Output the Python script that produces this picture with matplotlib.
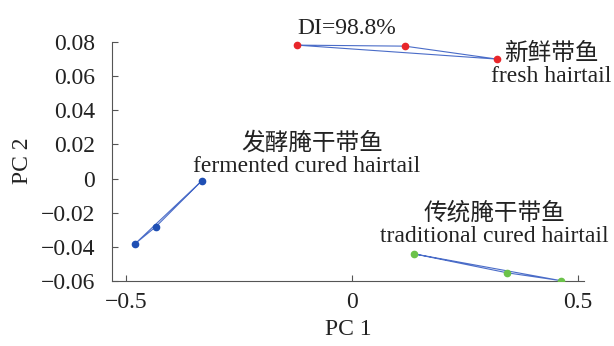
import matplotlib
matplotlib.use("Agg")
import matplotlib.pyplot as plt

plt.rcParams['font.family'] = ['Liberation Serif', 'Noto Sans CJK SC']
plt.rcParams['axes.unicode_minus'] = True

groups = ["fresh", "fermented", "traditional"]
fresh_x = [-0.122, 0.117, 0.321]
fresh_y = [0.0782, 0.0776, 0.0700]
ferm_x = [-0.332, -0.434, -0.480]
ferm_y = [-0.0012, -0.0282, -0.0382]
trad_x = [0.137, 0.343, 0.462]
trad_y = [-0.0441, -0.0552, -0.0598]
point_colors = ["#e8262a", "#1f4fb4", "#6cc24a"]
xticks = [-0.5, 0, 0.5]
yticks = [-0.06, -0.04, -0.02, 0, 0.02, 0.04, 0.06, 0.08]

fig = plt.figure(figsize=(6.14, 3.46), dpi=100)
ax = fig.add_axes([112/614, 1-281/346, (584-112)/614, (281-40)/346])

line_color = "#4a6cc8"
for xs, ys, c in [(fresh_x, fresh_y, point_colors[0]),
                  (ferm_x, ferm_y, point_colors[1]),
                  (trad_x, trad_y, point_colors[2])]:
    ax.plot(xs + [xs[0]], ys + [ys[0]], color=line_color, lw=0.8, zorder=2)
    ax.plot(xs, ys, 'o', color=c, ms=4.5, zorder=3)

ax.set_xlim(-0.531, 0.513)
ax.set_ylim(-0.06, 0.0812)
ax.set_xticks(xticks)
ax.set_xticklabels(["\u22120.5", "0", "0.5"])
ax.set_yticks(yticks)
ax.set_yticklabels(["\u22120.06", "\u22120.04", "\u22120.02", "0", "0.02", "0.04", "0.06", "0.08"])
for s in ['top', 'right']:
    ax.spines[s].set_visible(False)
for s in ['left', 'bottom']:
    ax.spines[s].set_color('#555555')
    ax.spines[s].set_linewidth(0.8)
ax.spines['left'].set_bounds(-0.06, 0.08)
ax.tick_params(direction='in', length=4, width=0.8, color='#555555', labelsize=17, labelcolor='#222222')
ax.tick_params(axis='y', pad=12)
ax.tick_params(axis='x', pad=8)
ax.set_xlabel("PC 1", fontsize=17, color='#222222', labelpad=4)
ax.set_ylabel("PC 2", fontsize=17, color='#222222', labelpad=6)

tc = '#222222'
ax.text(-0.122, 0.0815, "DI=98.8%", fontsize=17, color=tc, ha='left', va='bottom')
ax.text(0.44, 0.0729, "新鲜带鱼", fontsize=17, color=tc, ha='center', va='center', clip_on=False)
ax.text(0.44, 0.0600, "fresh hairtail", fontsize=17, color=tc, ha='center', va='center', clip_on=False)
ax.text(-0.088, 0.0206, "发酵腌干带鱼", fontsize=17, color=tc, ha='center', va='center')
ax.text(-0.100, 0.0070, "fermented cured hairtail", fontsize=17, color=tc, ha='center', va='center')
ax.text(0.314, -0.0206, "传统腌干带鱼", fontsize=17, color=tc, ha='center', va='center')
ax.text(0.314, -0.0340, "traditional cured hairtail", fontsize=17, color=tc, ha='center', va='center')

fig.savefig("out.png", dpi=100)
